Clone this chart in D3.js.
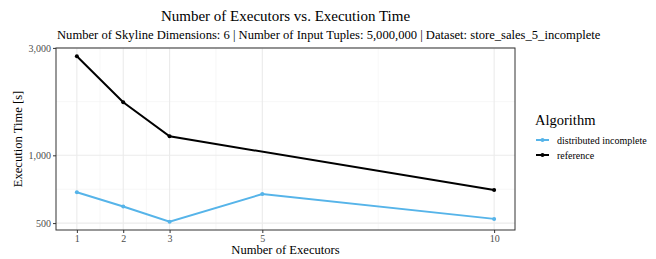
<!DOCTYPE html>
<html><head><meta charset="utf-8">
<script src="https://cdn.jsdelivr.net/npm/d3@7"></script>
<style>body{margin:0;background:#fff}text{font-family:"Liberation Serif","Times New Roman",serif}</style>
</head><body><svg id="c" width="656" height="259"></svg>
<script>
const seriesNames = ["distributed incomplete", "reference"];
const seriesColors = ["#56B4E9", "#000000"];
const distX = [1, 2, 3, 5, 10];
const distY = [685, 592, 507, 673, 522];
const refX = [1, 2, 3, 10];
const refY = [2754, 1720, 1214, 701];
const xTicks = [1, 2, 3, 5, 10];
const xMinor = [1.5, 2.5, 4, 7.5];
const yTicks = [500, 1000, 3000];
const yMinor = [Math.sqrt(500*1000), Math.sqrt(1000*3000)];
const title = "Number of Executors vs. Execution Time";
const subtitle = "Number of Skyline Dimensions: 6 | Number of Input Tuples: 5,000,000 | Dataset: store_sales_5_incomplete";

const svg = d3.select("#c");
const L = 56, R = 515, T = 48, B = 230;
const allX = distX.concat(refX), allY = distY.concat(refY);
const xmin = d3.min(allX), xmax = d3.max(allX), xe = (xmax - xmin) * 0.05;
const x = d3.scaleLinear().domain([xmin - xe, xmax + xe]).range([L, R]);
const ly0 = Math.log10(d3.min(allY)), ly1 = Math.log10(d3.max(allY)), ye = (ly1 - ly0) * 0.05;
const y = d3.scaleLog().domain([Math.pow(10, ly0 - ye), Math.pow(10, ly1 + ye)]).range([B, T]);

const g = svg.append("g");
g.selectAll(".xm").data(xMinor).join("line").attr("x1", d => x(d)).attr("x2", d => x(d)).attr("y1", T).attr("y2", B).attr("stroke", "#f2f2f2").attr("stroke-width", 0.6);
g.selectAll(".ym").data(yMinor).join("line").attr("y1", d => y(d)).attr("y2", d => y(d)).attr("x1", L).attr("x2", R).attr("stroke", "#f2f2f2").attr("stroke-width", 0.6);
g.selectAll(".xM").data(xTicks).join("line").attr("x1", d => x(d)).attr("x2", d => x(d)).attr("y1", T).attr("y2", B).attr("stroke", "#ebebeb").attr("stroke-width", 1.1);
g.selectAll(".yM").data(yTicks).join("line").attr("y1", d => y(d)).attr("y2", d => y(d)).attr("x1", L).attr("x2", R).attr("stroke", "#ebebeb").attr("stroke-width", 1.1);

const line = d3.line().x(d => x(d[0])).y(d => y(d[1]));
const series = [d3.zip(distX, distY), d3.zip(refX, refY)];
series.forEach((s, i) => {
  g.append("path").datum(s).attr("d", line).attr("fill", "none").attr("stroke", seriesColors[i]).attr("stroke-width", 2);
  g.selectAll(null).data(s).join("circle").attr("cx", d => x(d[0])).attr("cy", d => y(d[1])).attr("r", 2).attr("fill", seriesColors[i]);
});

g.append("rect").attr("x", L).attr("y", T).attr("width", R - L).attr("height", B - T).attr("fill", "none").attr("stroke", "#333").attr("stroke-width", 1);

const xa = svg.append("g").attr("transform", `translate(0,${B})`).call(d3.axisBottom(x).tickValues(xTicks).tickSize(3).tickPadding(2).tickFormat(d3.format("d")));
const ya = svg.append("g").attr("transform", `translate(${L},0)`).call(d3.axisLeft(y).tickValues(yTicks).tickSize(3).tickPadding(2).tickFormat(d3.format(",")));
[xa, ya].forEach(a => {
  a.select(".domain").remove();
  a.selectAll(".tick line").attr("stroke", "#333");
  a.selectAll(".tick text").attr("fill", "#4d4d4d").style("font-size", "10px").style("font-family", '"Liberation Serif",serif');
});

svg.append("text").attr("x", (L + R) / 2).attr("y", 21).attr("text-anchor", "middle").style("font-size", "15px").text(title);
svg.append("text").attr("x", 57).attr("y", 39).attr("text-anchor", "start").style("font-size", "12.6px").text(subtitle);
svg.append("text").attr("x", (L + R) / 2).attr("y", 254).attr("text-anchor", "middle").style("font-size", "12.6px").text("Number of Executors");
svg.append("text").attr("transform", `translate(22,${(T + B) / 2}) rotate(-90)`).attr("text-anchor", "middle").style("font-size", "12.6px").text("Execution Time [s]");

const lg = svg.append("g");
lg.append("text").attr("x", 535).attr("y", 125).style("font-size", "14.5px").text("Algorithm");
seriesNames.forEach((n, i) => {
  const yy = 140 + i * 15;
  lg.append("line").attr("x1", 536).attr("x2", 549).attr("y1", yy).attr("y2", yy).attr("stroke", seriesColors[i]).attr("stroke-width", 2);
  lg.append("circle").attr("cx", 542.5).attr("cy", yy).attr("r", 2).attr("fill", seriesColors[i]);
  lg.append("text").attr("x", 557).attr("y", yy + 3.5).style("font-size", "10px").text(n);
});
</script></body></html>
